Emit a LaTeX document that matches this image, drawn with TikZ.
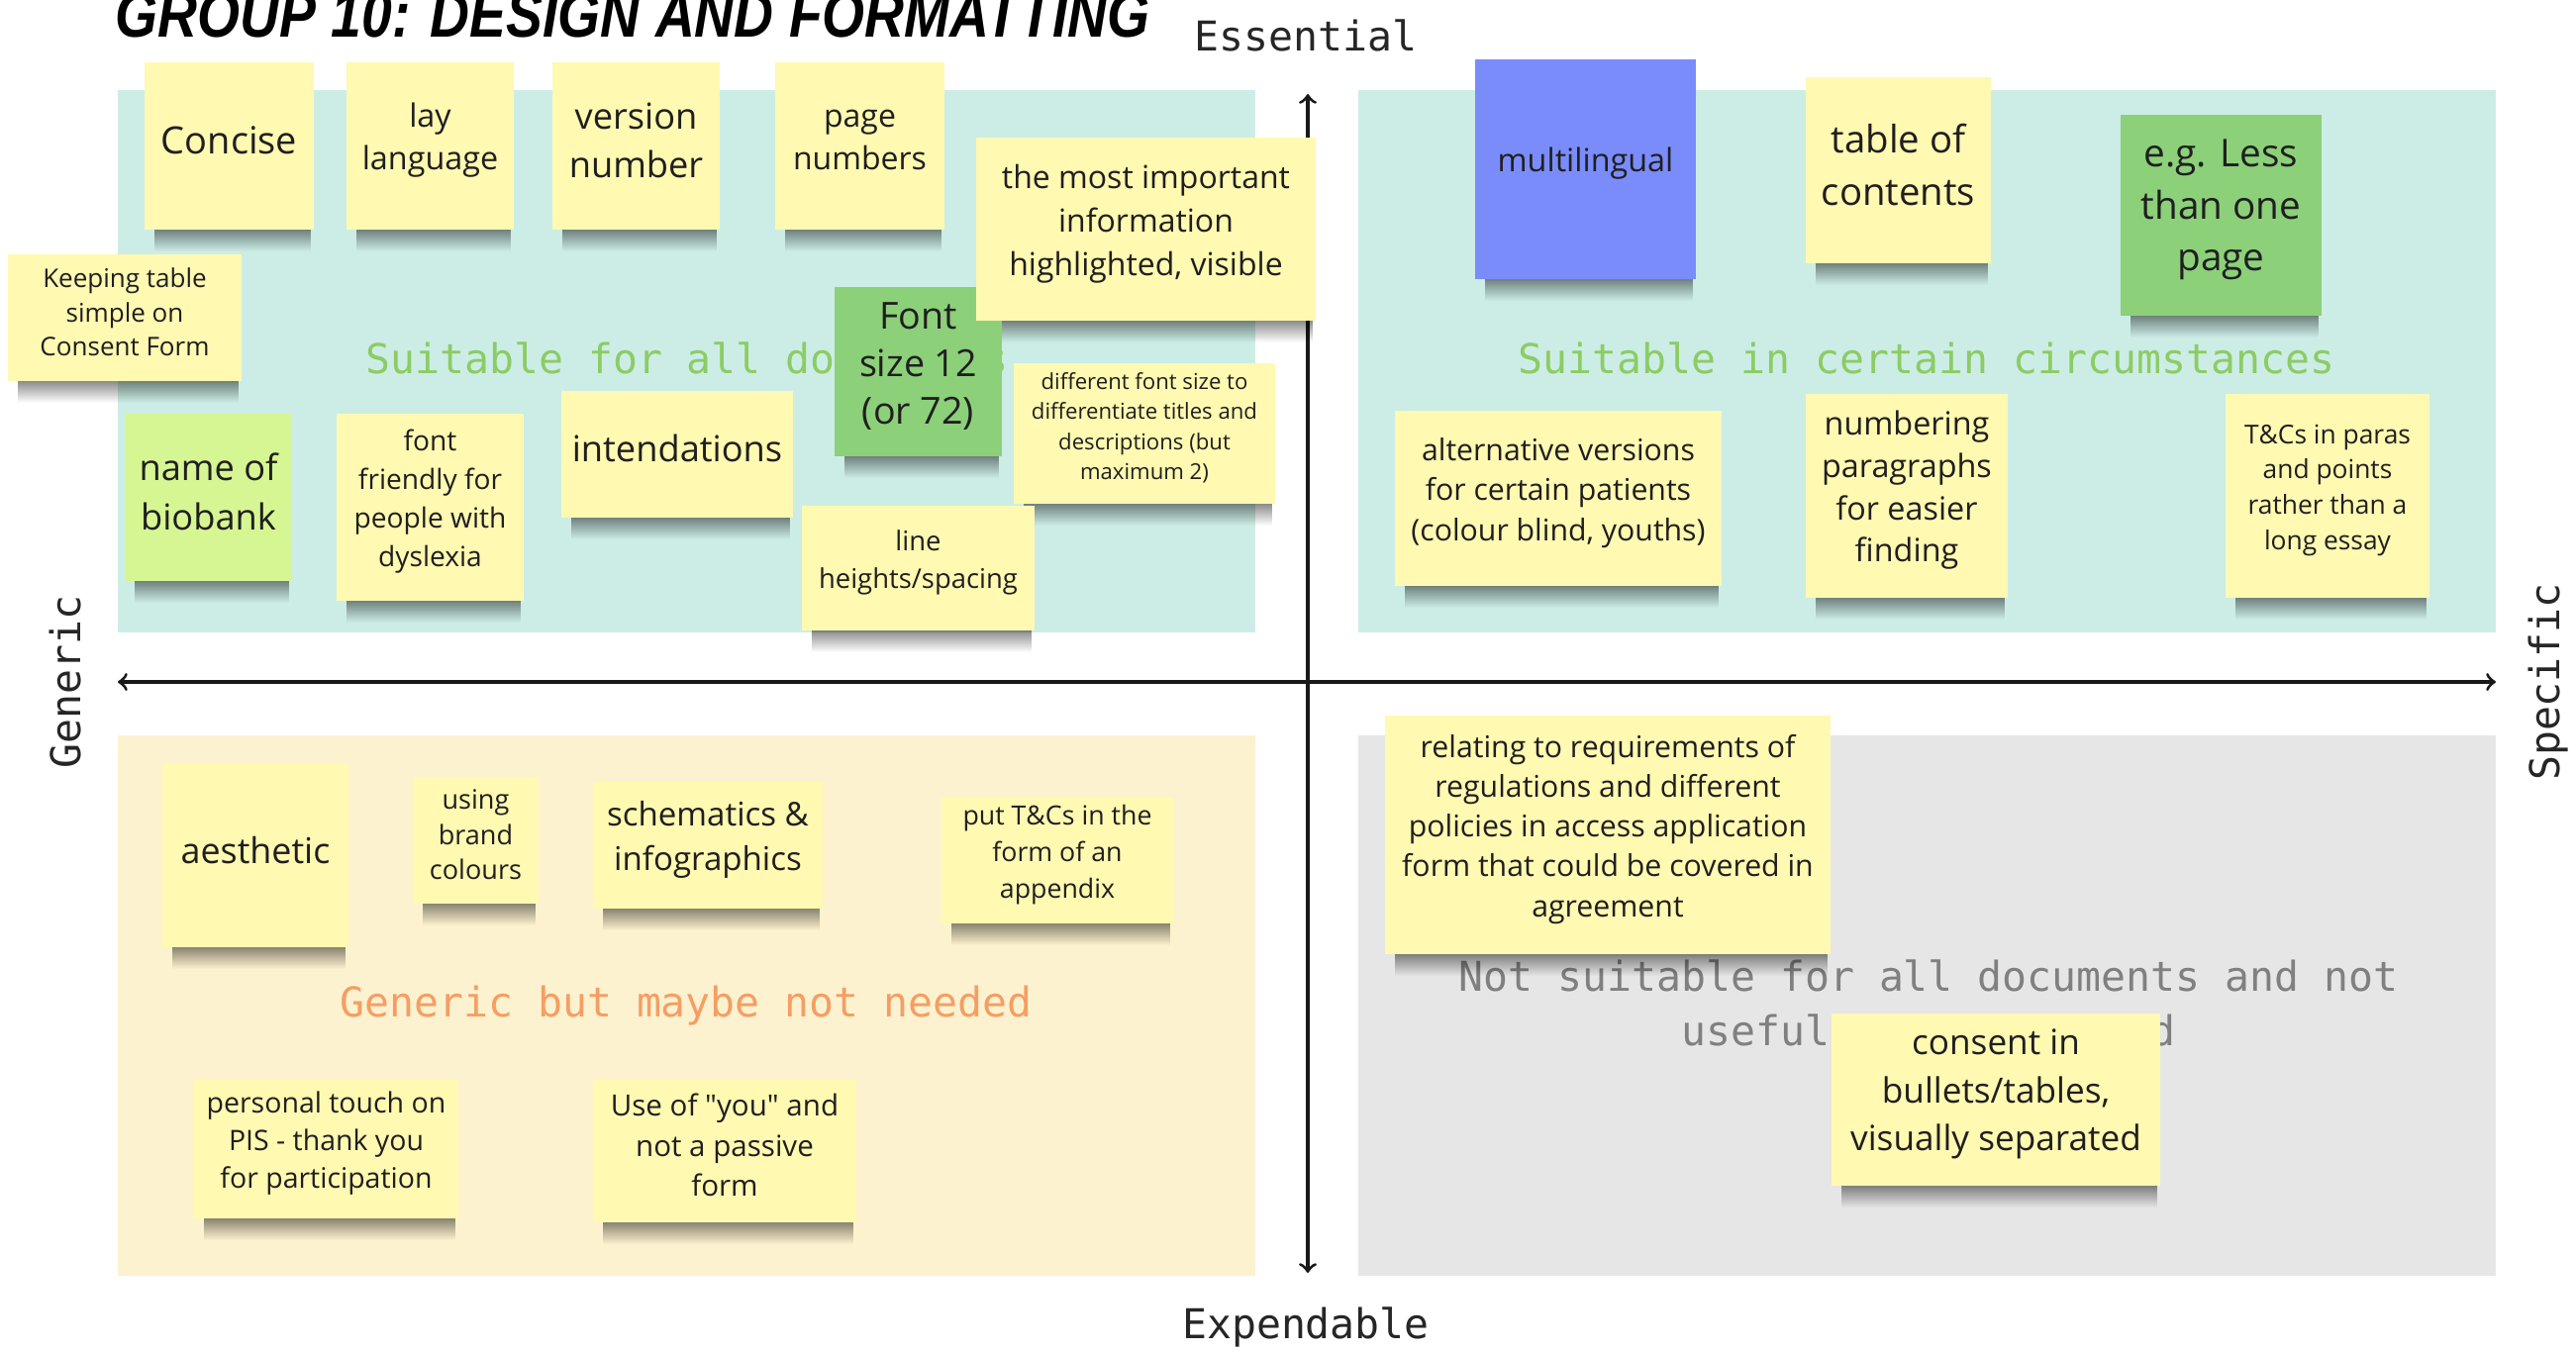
\documentclass[tikz,border=0pt]{standalone}
\usepackage{fontspec}
\setmainfont{Open Sans}[Ligatures=TeXOff]
\newfontfamily\monofont{DejaVu Sans Mono}
\newfontfamily\titlefont{Liberation Sans}
\usepackage{tikz}
\usetikzlibrary{positioning}
\usetikzlibrary{fit}
\usetikzlibrary{fadings}

\definecolor{quadteal}{HTML}{CCEDE6}
\definecolor{quadcream}{HTML}{FDF2CF}
\definecolor{quadgrey}{HTML}{E6E6E6}
\definecolor{noteyellow}{HTML}{FFF9B1}
\definecolor{notelime}{HTML}{D5F692}
\definecolor{notegreen}{HTML}{8CD07A}
\definecolor{noteblue}{HTML}{7A8CFA}
\definecolor{labelgreen}{HTML}{8CCC64}
\definecolor{labelorange}{HTML}{F59E64}
\definecolor{labelgrey}{HTML}{808080}

\tikzfading[name=shadowfade, top color=transparent!15, bottom color=transparent!100]
\pgfdeclarelayer{bg}
\pgfdeclarelayer{shade}
\pgfsetlayers{bg,shade,main}

\newcommand{\fs}[2]{\fontsize{#1}{#2}\selectfont}
% sticky note: name, colour, corner, corner, font, text
\newcommand{\sticky}[6]{%
  \node[note, fill=#2, fit={#3 #4}] (#1) {};
  \node[notetext, font=#5] (#1text) at ([yshift=1.6pt]#1.center) {#6};
  \begin{pgfonlayer}{shade}
    \fill[noteshadow] ([xshift=3pt, yshift=1pt]#1.south west) rectangle ([xshift=-1pt, yshift=-6pt]#1.south east);
  \end{pgfonlayer}}

\begin{document}
\begin{tikzpicture}[x=0.01cm, y=-0.01cm,
  note/.style={rectangle, inner sep=0pt},
  notetext/.style={inner sep=0pt, align=center, text=black!88},
  noteshadow/.style={fill=black, fill opacity=0.6, path fading=shadowfade},
  axis/.style={line width=0.9pt, black!90},
  axislabel/.style={font=\monofont\fs{11.8}{14}, text=black!85},
  quadlabel/.style={font=\monofont\fs{11.8}{15.6}, align=center}]
\useasboundingbox (0,0) rectangle (2602,1366);

\begin{pgfonlayer}{bg}
% quadrants
\fill[quadteal] (119,91) rectangle (1268,639);
\fill[quadteal] (1372,91) rectangle (2521,639);
\fill[quadcream] (119,743) rectangle (1268,1289);
\fill[quadgrey] (1372,743) rectangle (2521,1289);

\node[quadlabel, text=labelgreen] (allq) at (694,362) {Suitable for all documents};
\node[quadlabel, text=labelgreen] (certainq) at (1946,362) {Suitable in certain circumstances};
\node[quadlabel, text=labelorange] (genericq) at (693,1016) {Generic but maybe not needed};
\node[quadlabel, text=labelgrey] (notq) at (1948,1013) {Not suitable for all documents and not\\useful or not needed};

% axes
\coordinate (ytop) at (1321,95);
\coordinate (ybot) at (1321,1286);
\coordinate (xleft) at (119,689);
\coordinate (xright) at (2521,689);
\draw[axis, <->] (xleft) -- (xright);
\draw[axis, <->] (ytop) -- (ybot);
\end{pgfonlayer}

\node[axislabel] (essential) at (1319,36) {Essential};
\node[axislabel] (expendable) at (1319,1341) {Expendable};
\node[axislabel, rotate=90] (generic) at (66,689) {Generic};
\node[axislabel, rotate=90] (specific) at (2574,689) {Specific};

\node[anchor=base west, inner sep=0pt] (title) at (116,37)
  {\resizebox{297pt}{13pt}{\titlefont\bfseries\itshape GROUP 10: DESIGN AND FORMATTING}};

% suitable for all documents
\sticky{concise}{noteyellow}{(146,63)}{(317,232)}{\fs{10.8}{14}}{Concise}
\sticky{lay}{noteyellow}{(350,63)}{(519,232)}{\fs{9.2}{12.3}}{lay\\language}
\sticky{version}{noteyellow}{(558,63)}{(727,232)}{\fs{10.3}{14.2}}{version\\number}
\sticky{pagenum}{noteyellow}{(783,63)}{(954,232)}{\fs{9.1}{12.2}}{page\\numbers}
\sticky{keeping}{noteyellow}{(8,257)}{(244,385)}{\fs{7.4}{9.9}}{Keeping table\\simple on\\Consent Form}
\sticky{biobank}{notelime}{(126,418)}{(295,587)}{\fs{10.3}{14.1}}{name of\\biobank}
\sticky{dyslexia}{noteyellow}{(340,418)}{(529,607)}{\fs{8}{11.1}}{font\\friendly for\\people with\\dyslexia}
\sticky{intend}{noteyellow}{(567,395)}{(801,523)}{\fs{10.3}{14}}{intendations}
\sticky{lineh}{noteyellow}{(810,511)}{(1045,637)}{\fs{7.8}{10.8}}{line\\heights/spacing}
\sticky{fontsize}{notegreen}{(843,290)}{(1012,461)}{\fs{10.7}{13.7}}{Font\\size\ 12\\(or 72)}
\sticky{important}{noteyellow}{(986,139)}{(1329,324)}{\fs{9.1}{12.5}}{the most important\\information\\highlighted, visible}
\sticky{different}{noteyellow}{(1024,367)}{(1288,509)}{\fs{6.3}{8.6}}{different font size to\\differentiate titles and\\descriptions (but\\maximum 2)}

% suitable in certain circumstances
\sticky{multi}{noteblue}{(1490,60)}{(1713,282)}{\fs{9.2}{12}}{multilingual}
\sticky{toc}{noteyellow}{(1824,78)}{(2011,266)}{\fs{10.9}{15}}{table of\\contents}
\sticky{lesspage}{notegreen}{(2142,116)}{(2345,319)}{\fs{11}{15}}{e.g. Less\\than one\\page}
\sticky{altern}{noteyellow}{(1409,415)}{(1739,592)}{\fs{8.6}{11.5}}{alternative versions\\for certain patients\\(colour blind, youths)}
\sticky{numbering}{noteyellow}{(1824,398)}{(2028,604)}{\fs{9.2}{12.1}}{numbering\\paragraphs\\for easier\\finding}
\sticky{tcparas}{noteyellow}{(2248,398)}{(2454,604)}{\fs{7.5}{10.2}}{T\&Cs in paras\\and points\\rather than a\\long essay}

% generic but maybe not needed
\sticky{aesthetic}{noteyellow}{(164,772)}{(352,957)}{\fs{10.2}{14}}{aesthetic}
\sticky{brand}{noteyellow}{(417,785)}{(544,913)}{\fs{7.7}{10.1}}{using\\brand\\colours}
\sticky{schematics}{noteyellow}{(599,790)}{(831,918)}{\fs{9.4}{12.7}}{schematics \&\\infographics}
\sticky{appendix}{noteyellow}{(951,805)}{(1185,933)}{\fs{7.6}{10.6}}{put T\&Cs in the\\form of an\\appendix}
\sticky{personal}{noteyellow}{(196,1090)}{(463,1231)}{\fs{8.1}{10.8}}{personal touch on\\PIS - thank you\\for participation}
\sticky{passive}{noteyellow}{(599,1090)}{(865,1235)}{\fs{8.4}{11.5}}{Use of "you" and\\not a passive\\form}

% not suitable
\sticky{relating}{noteyellow}{(1399,723)}{(1849,964)}{\fs{8.6}{11.4}}{relating to requirements of\\regulations and different\\policies in access application\\form that could be covered in\\agreement}
\sticky{consent}{noteyellow}{(1850,1024)}{(2182,1198)}{\fs{10}{13.7}}{consent in\\bullets/tables,\\visually separated}
\end{tikzpicture}
\end{document}
